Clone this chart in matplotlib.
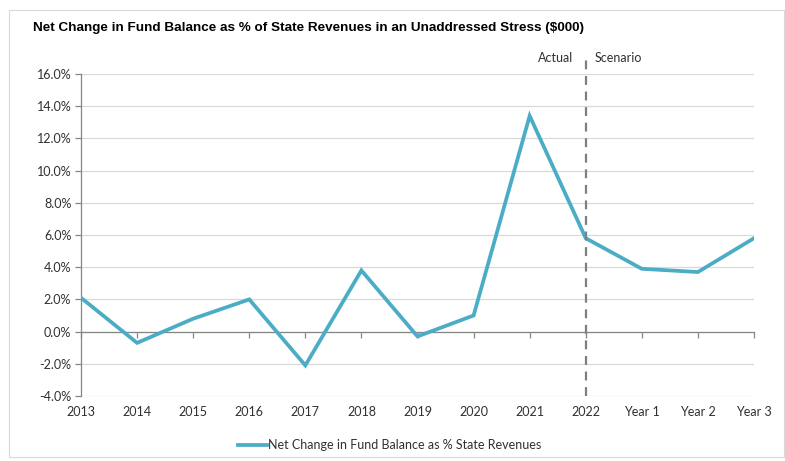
import matplotlib
matplotlib.use("Agg")
import matplotlib.pyplot as plt
from matplotlib.patches import Rectangle
from matplotlib.ticker import FuncFormatter, MultipleLocator

categories = ["2013", "2014", "2015", "2016", "2017", "2018", "2019", "2020",
              "2021", "2022", "Year 1", "Year 2", "Year 3"]
values = [2.1, -0.7, 0.8, 2.0, -2.1, 3.8, -0.3, 1.0, 13.4, 5.8, 3.9, 3.7, 5.8]
series_name = "Net Change in Fund Balance as % State Revenues"
title = "Net Change in Fund Balance as % of State Revenues in an Unaddressed Stress (\\$000)"
divider_category = "2022"

W, H = 785, 461
fig = plt.figure(figsize=(W / 100, H / 100), dpi=100)
fig.patches.append(Rectangle((9 / W, 1 - 457 / H), 775 / W, 447 / H, transform=fig.transFigure,
                             fill=False, edgecolor="#D9D9D9", linewidth=0.8))

ax = fig.add_axes([81 / W, 1 - 396 / H, (754 - 81) / W, (396 - 74) / H])
x = list(range(len(categories)))
line_color = "#4BACC6"
ax.plot(x, values, color=line_color, linewidth=2.7, solid_joinstyle="miter", label=series_name, zorder=3)

ax.set_xlim(0, len(categories) - 1)
ax.set_ylim(-4, 16)
ax.yaxis.set_major_locator(MultipleLocator(2))
ax.yaxis.set_major_formatter(FuncFormatter(lambda v, p: f"{v:.1f}%"))
ax.grid(axis="y", color="#D9D9D9", linewidth=0.9, zorder=0)
ax.set_axisbelow(True)

for s in ["top", "right"]:
    ax.spines[s].set_visible(False)
ax.spines["left"].set_color("#868686")
ax.spines["left"].set_linewidth(0.9)
ax.spines["bottom"].set_position(("data", 0))
ax.spines["bottom"].set_color("#868686")
ax.spines["bottom"].set_linewidth(0.9)

font = "Lato"
ax.set_xticks(x)
ax.tick_params(axis="x", labelbottom=False, length=4, width=0.9, color="#868686", direction="out")
ax.tick_params(axis="y", length=4, width=0.9, color="#868686", direction="out",
               labelsize=9, labelcolor="#303030", pad=3)
for lab in ax.get_yticklabels():
    lab.set_fontfamily(font)

sec = ax.secondary_xaxis("bottom")
sec.set_xticks(x, categories)
sec.tick_params(length=0, labelsize=9, labelcolor="#303030", pad=7)
sec.spines["bottom"].set_visible(False)
for lab in sec.get_xticklabels():
    lab.set_fontfamily(font)

xd = categories.index(divider_category)
ax.plot([xd, xd], [-4, 17], color="#7F7F7F", linewidth=1.6, linestyle=(0, (4, 3)),
        clip_on=False, zorder=4)
ax.text(xd - 0.22, 17.0, "Actual", ha="right", va="center", fontsize=9, family=font, color="#303030")
ax.text(xd + 0.15, 17.0, "Scenario", ha="left", va="center", fontsize=9, family=font, color="#303030")

fig.text(33 / W, 1 - 28 / H, title, ha="left", va="center", fontsize=9.7, fontweight="bold",
         family="Liberation Sans", color="black")

leg = fig.legend(handles=ax.get_lines()[:1], loc="center", bbox_to_anchor=(390 / W, 1 - 445 / H),
                 frameon=False, prop={"family": font, "size": 9}, handlelength=2.3, handletextpad=0.1)
for t in leg.get_texts():
    t.set_color("#303030")

fig.savefig("out.png", dpi=100)
